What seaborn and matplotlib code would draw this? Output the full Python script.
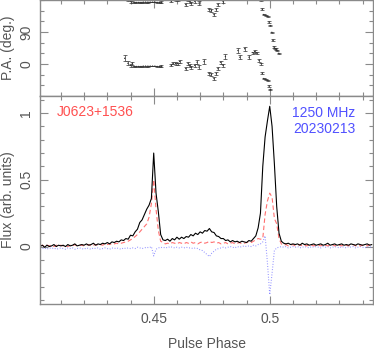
# pulse profile + position angle, two stacked panels
import numpy as np
import pandas as pd
import matplotlib
matplotlib.use("Agg")
import matplotlib.pyplot as plt
from matplotlib.ticker import MultipleLocator
import seaborn as sns

# profile bins, 0.001 in phase from 0.401 to 0.544
phase = np.round(np.arange(0.401, 0.5445, 0.001), 3)

# total intensity (black)
flux_i = [0.00, 0.01, -0.005, 0.01, 0.00, 0.005, 0.015, 0.00, 0.01, 0.005,
          0.01, 0.00, 0.015, 0.005, 0.01, 0.02, 0.005, 0.01, 0.015, 0.01,
          0.02, 0.01, 0.015, 0.025, 0.01, 0.02, 0.015, 0.025, 0.02, 0.03,
          0.02, 0.035, 0.03, 0.04, 0.035, 0.05, 0.045, 0.06, 0.055, 0.085,
          0.08, 0.11, 0.13, 0.18, 0.20, 0.24, 0.28, 0.31, 0.36, 0.70,
          0.40, 0.26, 0.09, 0.05, 0.045, 0.055, 0.04, 0.06, 0.05, 0.07,
          0.055, 0.07, 0.06, 0.075, 0.07, 0.09, 0.08, 0.10, 0.09, 0.11,
          0.10, 0.12, 0.115, 0.135, 0.11, 0.105, 0.08, 0.075, 0.06, 0.06,
          0.045, 0.05, 0.035, 0.045, 0.035, 0.04, 0.03, 0.04, 0.035, 0.03,
          0.045, 0.04, 0.06, 0.08, 0.14, 0.25, 0.60, 0.82, 0.94, 1.05,
          0.90, 0.62, 0.30, 0.10, 0.04, 0.025, 0.02, 0.025, 0.015, 0.02,
          0.015, 0.02, 0.01, 0.025, 0.015, 0.02, 0.01, 0.015, 0.02, 0.01,
          0.015, 0.02, 0.01, 0.015, 0.025, 0.01, 0.015, 0.02, 0.01, 0.015,
          0.02, 0.01, 0.015, 0.01, 0.02, 0.015, 0.01, 0.02, 0.015, 0.01,
          0.015, 0.02, 0.01, 0.015]

# linear polarisation (red dashed)
flux_l = [0.005, 0.01, 0.0, 0.01, 0.005, 0.01, 0.0, 0.01, 0.005, 0.01,
          0.005, 0.01, 0.0, 0.01, 0.005, 0.015, 0.005, 0.01, 0.01, 0.005,
          0.01, 0.015, 0.005, 0.01, 0.015, 0.01, 0.015, 0.01, 0.02, 0.015,
          0.02, 0.015, 0.02, 0.025, 0.02, 0.025, 0.03, 0.035, 0.04, 0.05,
          0.06, 0.075, 0.09, 0.11, 0.13, 0.15, 0.17, 0.22, 0.32, 0.50,
          0.28, 0.12, 0.04, 0.03, 0.02, 0.025, 0.02, 0.03, 0.025, 0.02,
          0.03, 0.025, 0.02, 0.03, 0.025, 0.035, 0.025, 0.03, 0.02, 0.03,
          0.035, 0.025, 0.03, 0.04, 0.03, 0.035, 0.025, 0.03, 0.02, 0.025,
          0.03, 0.02, 0.025, 0.03, 0.02, 0.025, 0.03, 0.02, 0.025, 0.03,
          0.035, 0.03, 0.04, 0.05, 0.06, 0.055, 0.06, 0.24, 0.34, 0.40,
          0.37, 0.21, 0.17, 0.06, 0.02, 0.01, 0.015, 0.005, 0.01, 0.015,
          0.005, 0.01, 0.015, 0.005, 0.01, 0.005, 0.015, 0.01, 0.005, 0.01,
          0.01, 0.005, 0.015, 0.01, 0.005, 0.01, 0.015, 0.005, 0.01, 0.01,
          0.005, 0.015, 0.01, 0.005, 0.01, 0.015, 0.005, 0.01, 0.005, 0.01,
          0.01, 0.005, 0.015, 0.01]

# circular polarisation (blue dotted)
flux_v = [-0.01, -0.015, -0.01, -0.02, -0.01, -0.015, -0.01, -0.02, -0.015, -0.01,
          -0.015, -0.02, -0.01, -0.015, -0.01, -0.02, -0.015, -0.01, -0.015, -0.02,
          -0.01, -0.015, -0.02, -0.01, -0.015, -0.01, -0.02, -0.015, -0.01, -0.015,
          -0.02, -0.01, -0.015, -0.01, -0.015, -0.02, -0.01, -0.015, -0.01, -0.015,
          -0.01, -0.015, -0.005, -0.01, -0.015, -0.01, -0.005, -0.01, 0.0, -0.07,
          -0.02, -0.01, -0.005, -0.01, -0.005, -0.01, 0.0, -0.005, -0.01, -0.005,
          -0.01, -0.005, -0.01, -0.005, -0.01, -0.01, -0.015, -0.01, -0.015, -0.025,
          -0.03, -0.045, -0.06, -0.075, -0.05, -0.035, -0.02, -0.015, -0.01, -0.005,
          -0.01, -0.005, 0.0, -0.005, -0.01, 0.0, -0.005, 0.0, 0.005, 0.0,
          0.005, 0.0, 0.01, 0.005, 0.015, 0.02, 0.035, 0.08, -0.12, -0.36,
          -0.20, -0.03, -0.01, -0.005, 0.0, -0.005, 0.0, -0.01, -0.005, 0.0,
          -0.005, 0.0, -0.01, -0.005, 0.0, -0.005, -0.01, 0.0, -0.005, 0.0,
          -0.005, -0.01, 0.0, -0.005, 0.0, -0.01, -0.005, 0.0, -0.005, -0.01,
          0.0, -0.005, -0.01, 0.0, -0.005, 0.0, -0.01, -0.005, 0.0, -0.005,
          -0.01, 0.0, -0.005, 0.0]

# position angle points (deg) and errors
pa_phase = [0.4375, 0.4389, 0.4400, 0.4408, 0.4416, 0.4425, 0.4435, 0.4445,
            0.4455, 0.4465, 0.4475, 0.4485, 0.4495, 0.4505, 0.4515, 0.4525,
            0.4533, 0.4576, 0.4583, 0.4594, 0.4603, 0.4612, 0.4638, 0.4648,
            0.4655, 0.4662, 0.4677, 0.4687, 0.4695, 0.4717, 0.4738, 0.4749,
            0.4760, 0.4770, 0.4777, 0.4788, 0.4799, 0.4809, 0.4863, 0.4871,
            0.4892, 0.4911, 0.4927, 0.4935, 0.4944, 0.4954, 0.4964, 0.4968,
            0.4974, 0.4983, 0.4991, 0.4997, 0.5003, 0.5009, 0.5013, 0.5018,
            0.5022, 0.5027, 0.5031, 0.5039]
pa_deg = [16, 2, -4, 2, -7, -7, -7, -7, -6, -6, -6, -6, -6, -6, -7, -7,
          -6, -4, 2, 1, 1, 7, -13, 2, -5, -9, -4, 5, -9, 7, -26, -29,
          -41, -27, -13, 5, -4, 21, 38, 19, 43, 19, 32, 35, 32, 10, 1, -26,
          -41, -43, -46, -62, -72, 89, 67, 48, 44, 42, 38, 30]
pa_err = [8, 6, 4, 4, 2, 1.5, 1.5, 1.5, 1.5, 1.5, 1.5, 1, 1, 1, 1.5, 2,
          3, 3, 3, 4, 3, 4, 4, 5, 4, 4, 5, 5, 5, 6, 4, 4,
          5, 5, 5, 4, 4, 6, 6, 6, 6, 6, 3, 3, 3, 3, 3, 3,
          2, 2, 2, 2, 2, 2, 2, 2, 2, 2, 2, 2]

sns.set_style("ticks")
plt.rcParams["font.family"] = ["Liberation Sans", "DejaVu Sans"]
plt.rcParams["font.size"] = 10

edge = "#8a8a8a"
txt = "#555555"

fig = plt.figure(figsize=(3.74, 3.49), dpi=100)
ax_pa = fig.add_axes([40 / 374, 1 - 96 / 349, 333 / 374, 96 / 349])
ax = fig.add_axes([40 / 374, 1 - 304 / 349, 333 / 374, 208 / 349], sharex=ax_pa)

# PA drawn twice, 180 deg apart
pa_df = pd.DataFrame({"phase": pa_phase, "pa": pa_deg, "err": pa_err})
pa_two = pd.concat([pa_df, pa_df.assign(pa=pa_df["pa"] + 180)])
ax_pa.errorbar(pa_two["phase"], pa_two["pa"], yerr=pa_two["err"], fmt="none",
               ecolor="#333333", elinewidth=0.5, capsize=1.2, capthick=0.5)
sns.scatterplot(data=pa_two, x="phase", y="pa", ax=ax_pa, s=1, color="#333333",
                edgecolor="none", legend=False)

prof = pd.DataFrame({"phase": phase, "I": flux_i, "L": flux_l, "V": flux_v})
sns.lineplot(data=prof, x="phase", y="V", ax=ax, color="#8c8cff", lw=0.8,
             linestyle=(0, (0.8, 1.6)))
sns.lineplot(data=prof, x="phase", y="L", ax=ax, color="#ff7070", lw=0.8,
             linestyle=(0, (4, 2.5)))
sns.lineplot(data=prof, x="phase", y="I", ax=ax, color="black", lw=0.8)

ax.set_xlim(0.401, 0.5445)
ax.set_ylim(-0.43, 1.127)
ax_pa.set_ylim(-90, 180)

for a in (ax, ax_pa):
    for s in a.spines.values():
        s.set_color(edge)
        s.set_linewidth(1.0)
    a.tick_params(which="both", direction="in", top=True, right=True,
                  color=edge, width=0.8, labelcolor=txt, labelsize=10)
    a.tick_params(which="major", length=6)
    a.tick_params(which="minor", length=3)

ax.xaxis.set_major_locator(MultipleLocator(0.05))
ax.xaxis.set_minor_locator(MultipleLocator(0.01))
ax.yaxis.set_major_locator(MultipleLocator(0.5))
ax.yaxis.set_minor_locator(MultipleLocator(0.1))
ax_pa.yaxis.set_major_locator(MultipleLocator(90))
ax_pa.yaxis.set_minor_locator(MultipleLocator(30))
ax.set_xticks([0.45, 0.5])
ax.set_xticklabels(["0.45", "0.5"])
ax.set_yticks([0, 0.5, 1])
ax.set_yticklabels(["0", "0.5", "1"])
ax_pa.set_yticks([0, 90])
ax_pa.set_yticklabels(["0", "90"])
ax_pa.tick_params(axis="x", labelbottom=False)
ax.tick_params(axis="x", pad=6)
ax.tick_params(axis="y", pad=5)
ax_pa.tick_params(axis="y", pad=5)

for a in (ax, ax_pa):
    for t in a.get_yticklabels():
        t.set_rotation(90)
        t.set_va("center")

ax.set_xlabel("Pulse Phase", color=txt, fontsize=10)
ax.xaxis.set_label_coords(0.5, -0.19)
ax.xaxis.label.set_va("center")
ax.set_ylabel("Flux (arb. units)", color=txt, fontsize=10)
ax.yaxis.set_label_coords(-0.096, 0.5)
ax.yaxis.label.set_va("center")
ax_pa.set_ylabel("P.A. (deg.)", color=txt, fontsize=10)
ax_pa.yaxis.set_label_coords(-0.096, 0.5)
ax_pa.yaxis.label.set_va("center")

ax.text(0.051, 0.923, "J0623+1536", transform=ax.transAxes, color="#ff5050",
        fontsize=10, ha="left", va="center")
ax.text(0.948, 0.918, "1250 MHz", transform=ax.transAxes, color="#5050ff",
        fontsize=10, ha="right", va="center")
ax.text(0.948, 0.841, "20230213", transform=ax.transAxes, color="#5050ff",
        fontsize=10, ha="right", va="center")

fig.savefig("out.png", dpi=100)
